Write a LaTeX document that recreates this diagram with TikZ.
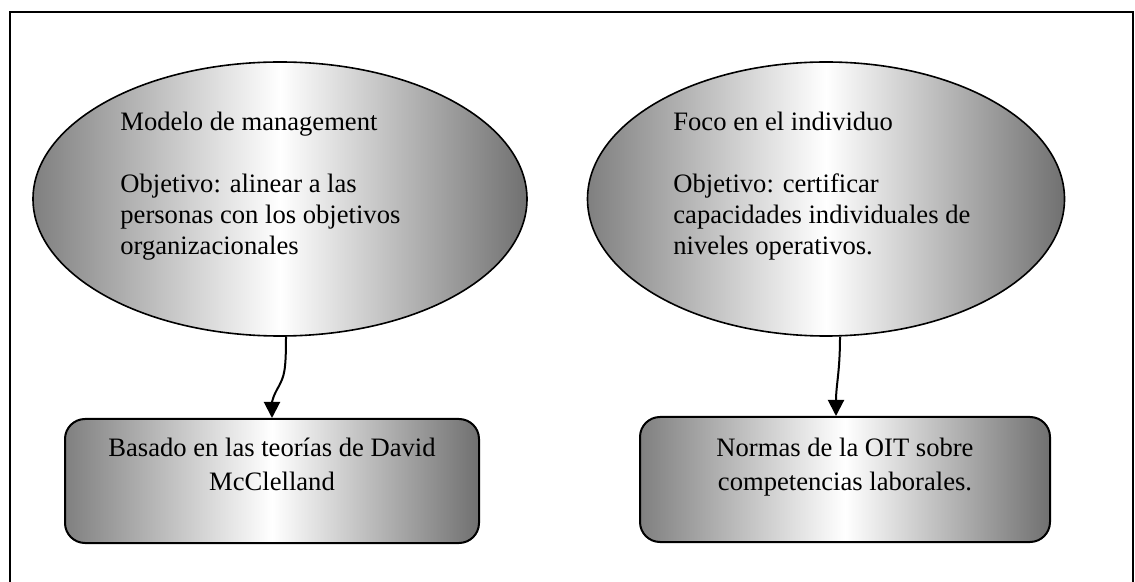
\documentclass[tikz,border=0pt]{standalone}
\usepackage{fontspec}
\setmainfont{Liberation Serif}
\usetikzlibrary{arrows.meta,shapes.geometric}
\tikzset{
  metal/.style={left color=black!50, right color=black!56, middle color=white},
  bubble/.style={ellipse, draw, line width=0.8pt, metal, inner sep=0pt},
  card/.style={rectangle, draw, line width=1pt, rounded corners=10pt, metal, inner sep=0pt},
  txt/.style={font=\fontsize{13.3}{15.5}\selectfont, inner sep=0pt},
  link/.style={line width=1pt, -{Triangle[length=8pt,width=8pt]}}
}
\begin{document}
\begin{tikzpicture}[x=0.5pt, y=-0.5pt]
    \useasboundingbox (0,0) rectangle (1135,582);
    \draw[line width=1pt] (10,590)--(10,12)--(1133,12)--(1133,590);
    % ellipses
    \node[bubble, minimum width=247pt, minimum height=137pt] (mgmt) at (280,199) {};
    \node[bubble, minimum width=238.5pt, minimum height=137pt] (indiv) at (826,199) {};
    \node[txt, align=left, anchor=base west] (mgmttxt) at (120,255)
        {Modelo de management\\[15.5pt]Objetivo: alinear a las\\personas con los objetivos\\organizacionales};
    \node[txt, align=left, anchor=base west] (indivtxt) at (673,255)
        {Foco en el individuo\\[15.5pt]Objetivo: certificar\\capacidades individuales de\\niveles operativos.};
    % boxes
    \node[card, minimum width=207pt, minimum height=62pt] (mcc) at (272,481) {};
    \node[card, minimum width=205pt, minimum height=62.5pt] (oit) at (845,479.5) {};
    \node[txt, align=center, anchor=base, font=\fontsize{13.3}{16.6}\selectfont] (mcctxt) at (272,490)
        {Basado en las teorías de David\\McClelland};
    \node[txt, align=center, anchor=base, font=\fontsize{13.3}{16.6}\selectfont] (oittxt) at (845,490)
        {Normas de la OIT sobre\\competencias laborales.};
    % connectors
    \draw[link] ([xshift=3pt]mgmt.south) .. controls (286,372) and (284,376) .. (279,386)
        .. controls (273,396) and (272,402) .. (mcc.north);
    \draw[link] ([xshift=7pt]indiv.south) .. controls (840,372) and (836,385) .. ([xshift=-4.5pt]oit.north);
\end{tikzpicture}
\end{document}
